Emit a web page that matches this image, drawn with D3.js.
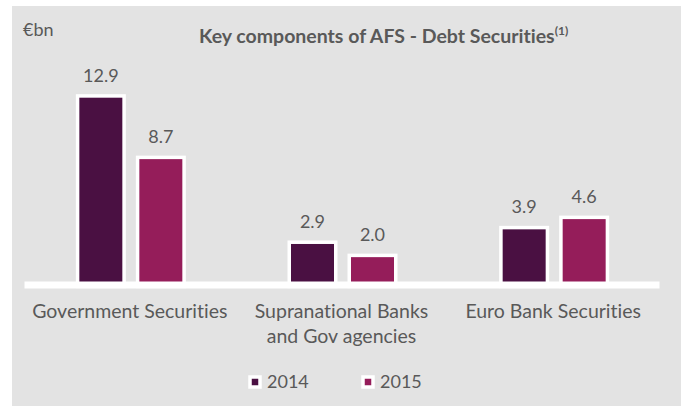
<!DOCTYPE html>
<html>
<head>
<meta charset="utf-8">
<script src="https://cdn.jsdelivr.net/npm/d3@7"></script>
<style>
    body { margin: 0; background: #fff; }
    svg { display: block; font-family: Lato, "Open Sans", sans-serif; font-variant-ligatures: none; }
    .label { fill: #595959; }
</style>
</head>
<body>
<svg id="chart"></svg>
<script>
const categories = [['Government Securities'], ['Supranational Banks', 'and Gov agencies'], ['Euro Bank Securities']];
const years = ['2014', '2015'];
const values2014 = [12.9, 2.9, 3.9];
const values2015 = [8.7, 2.0, 4.6];
const colors = ['#4a1042', '#951d5a'];

const W = 681;
const H = 406;
const svg = d3.select('#chart').attr('width', W).attr('height', H);

svg.append('rect')
    .attr('x', 12).attr('y', 6)
    .attr('width', W - 12).attr('height', H - 6)
    .attr('fill', '#e3e3e3');

const keys = categories.map((c) => c.join(' '));
const series = [values2014, values2015];

const x0 = d3.scaleBand().domain(keys).range([24, 659]);
const bw = x0.bandwidth();
const x1 = d3.scaleBand().domain(years).range([bw / 2 - 54, bw / 2 + 56]).paddingInner(1 / 6);
const y = d3.scaleLinear().domain([0, 14]).range([286.4, 81.6]);

const sw = 3.5;

const rows = [];
keys.forEach((k, i) => {
    years.forEach((yr, j) => rows.push({ cat: k, year: yr, value: series[j][i], color: colors[j] }));
});

const g = svg.append('g');

g.selectAll('.bar')
    .data(rows)
    .enter()
    .append('rect')
    .attr('class', 'bar')
    .attr('x', (d) => x0(d.cat) + x1(d.year) + sw / 2)
    .attr('width', x1.bandwidth() - sw)
    .attr('y', (d) => y(d.value) - sw / 2)
    .attr('height', (d) => y(0) - y(d.value) + sw / 2)
    .attr('fill', (d) => d.color)
    .attr('stroke', '#fff')
    .attr('stroke-width', sw);

g.selectAll('.value')
    .data(rows)
    .enter()
    .append('text')
    .attr('class', 'label')
    .attr('x', (d) => x0(d.cat) + x1(d.year) + x1.bandwidth() / 2)
    .attr('y', (d) => y(d.value) - sw - 12.5)
    .attr('text-anchor', 'middle')
    .attr('font-size', 18)
    .text((d) => d3.format('.1f')(d.value));

// white baseline
const axis = d3.axisBottom(x0).tickSize(0).tickSizeOuter(0).tickFormat('');
const ax = svg.append('g').attr('transform', 'translate(0,284.5)').call(axis);
ax.select('.domain').attr('stroke', '#fff').attr('stroke-width', 7);

const cats = svg.selectAll('.cat')
    .data(categories)
    .enter()
    .append('text')
    .attr('class', 'label')
    .attr('text-anchor', 'middle')
    .attr('font-size', 19.5)
    .attr('x', (d, i) => x0(keys[i]) + bw / 2)
    .attr('y', 318);

cats.selectAll('tspan')
    .data((d) => d)
    .enter()
    .append('tspan')
    .attr('x', function () { return d3.select(this.parentNode).attr('x'); })
    .attr('dy', (d, i) => (i === 0 ? 0 : 25))
    .text((d) => d);

svg.append('text')
    .attr('class', 'label')
    .attr('x', 23).attr('y', 36)
    .attr('font-size', 18)
    .text('€bn');

const title = svg.append('text')
    .attr('class', 'label')
    .attr('x', 199).attr('y', 43)
    .attr('font-size', 19.5)
    .attr('font-weight', 'bold')
    .text('Key components of AFS - Debt Securities');
title.append('tspan')
    .attr('font-size', 12)
    .attr('dy', -8)
    .text('(1)');

// legend
const legendX = [248, 361];
const legend = svg.selectAll('.legend')
    .data(years)
    .enter()
    .append('g')
    .attr('transform', (d, i) => `translate(${legendX[i]},375)`);

legend.append('rect')
    .attr('x', 2).attr('y', 2)
    .attr('width', 10).attr('height', 10)
    .attr('fill', (d, i) => colors[i])
    .attr('stroke', '#fff')
    .attr('stroke-width', 3.5);

legend.append('text')
    .attr('class', 'label')
    .attr('x', 19).attr('y', 13)
    .attr('font-size', 18)
    .text((d) => d);
</script>
</body>
</html>
